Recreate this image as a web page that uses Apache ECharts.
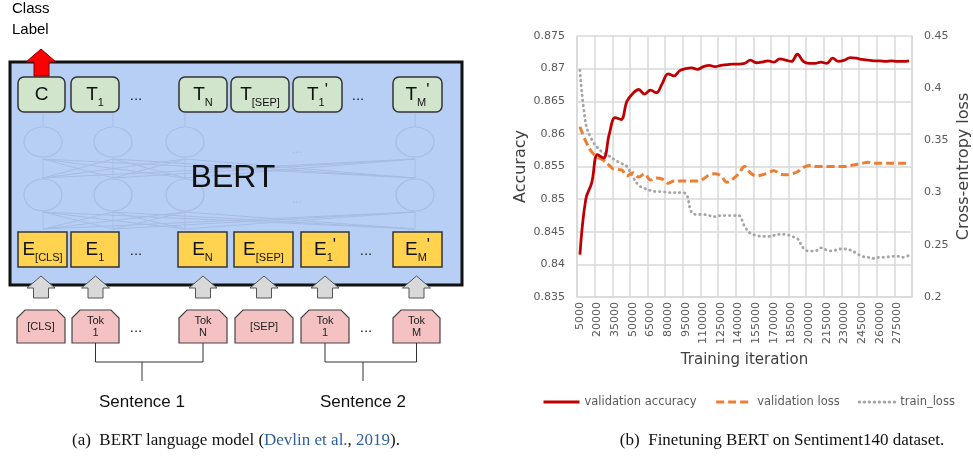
<!DOCTYPE html>
<html>
<head>
<meta charset="utf-8">
<script src="https://cdn.jsdelivr.net/npm/echarts@6/dist/echarts.min.js"></script>
<style>
  html, body { margin: 0; padding: 0; background: #fff; }
  #chart { width: 973px; height: 462px; }
</style>
</head>
<body>
<div id="chart"></div>
<script>
// training iterations (x categories)
var iterations = ['5000', '10000', '15000', '20000', '25000', '30000', '35000', '40000', '45000', '50000',
  '55000', '60000', '65000', '70000', '75000', '80000', '85000', '90000', '95000', '100000',
  '105000', '110000', '115000', '120000', '125000', '130000', '135000', '140000', '145000', '150000',
  '155000', '160000', '165000', '170000', '175000', '180000', '185000', '190000', '195000', '200000',
  '205000', '210000', '215000', '220000', '225000', '230000', '235000', '240000', '245000', '250000',
  '255000', '260000', '265000', '270000', '275000', '280000', '285000'];

var valAccuracy = [0.8415, 0.8500, 0.8525, 0.8568, 0.8563, 0.8600, 0.8625, 0.8622, 0.8650, 0.8662,
  0.8668, 0.8661, 0.8667, 0.8663, 0.8677, 0.8692, 0.8689, 0.8697, 0.8700, 0.8701,
  0.8699, 0.8703, 0.8705, 0.8703, 0.8705, 0.8706, 0.8707, 0.8707, 0.8708, 0.8713,
  0.8709, 0.8710, 0.8712, 0.8710, 0.8715, 0.8713, 0.8711, 0.8722, 0.8711, 0.8708,
  0.8708, 0.8710, 0.8708, 0.8716, 0.8711, 0.8713, 0.8717, 0.8716, 0.8714, 0.8713,
  0.8712, 0.8712, 0.8711, 0.8712, 0.8711, 0.8711, 0.8712];

var valLoss = [0.363, 0.349, 0.339, 0.334, 0.331, 0.326, 0.322, 0.322, 0.316, 0.319,
  0.315, 0.318, 0.312, 0.314, 0.313, 0.309, 0.311, 0.311, 0.311, 0.311,
  0.311, 0.313, 0.317, 0.318, 0.316, 0.310, 0.313, 0.318, 0.325, 0.319,
  0.316, 0.317, 0.319, 0.321, 0.318, 0.317, 0.318, 0.320, 0.324, 0.326,
  0.325, 0.325, 0.325, 0.325, 0.325, 0.325, 0.326, 0.327, 0.328, 0.329,
  0.328, 0.328, 0.328, 0.328, 0.328, 0.328, 0.328];

var trainLoss = [0.417, 0.366, 0.351, 0.343, 0.338, 0.335, 0.331, 0.328, 0.325, 0.315,
  0.307, 0.304, 0.302, 0.301, 0.301, 0.300, 0.300, 0.300, 0.299, 0.281,
  0.279, 0.279, 0.278, 0.277, 0.278, 0.278, 0.278, 0.278, 0.268, 0.261,
  0.259, 0.258, 0.258, 0.259, 0.260, 0.260, 0.258, 0.256, 0.247, 0.244,
  0.244, 0.247, 0.245, 0.244, 0.246, 0.246, 0.245, 0.242, 0.239, 0.238,
  0.237, 0.238, 0.238, 0.239, 0.239, 0.238, 0.240];

// diagram labels
var outputLabels = ['C', 'T_1', 'T_N', 'T_[SEP]', "T_1'", "T_M'"];
var embedLabels = ['E_[CLS]', 'E_1', 'E_N', 'E_[SEP]', "E_1'", "E_M'"];
var tokenLabels = ['[CLS]', 'Tok\n1', 'Tok\nN', '[SEP]', 'Tok\n1', 'Tok\nM'];
var sentenceLabels = ['Sentence 1', 'Sentence 2'];

var SANS = 'Liberation Sans, Arial, sans-serif';
var CHART_FONT = 'DejaVu Sans, sans-serif';
var SERIF = 'Liberation Serif, Times New Roman, serif';

var graphics = [];

function rect(x0, y0, x1, y1, fill, stroke, lw, r) {
  graphics.push({
    type: 'rect',
    shape: { x: x0, y: y0, width: x1 - x0, height: y1 - y0, r: r || 0 },
    style: { fill: fill, stroke: stroke, lineWidth: lw }
  });
}
function poly(points, fill, stroke, lw) {
  graphics.push({ type: 'polygon', shape: { points: points }, style: { fill: fill, stroke: stroke, lineWidth: lw } });
}
function line(x1, y1, x2, y2, stroke, lw) {
  graphics.push({ type: 'line', shape: { x1: x1, y1: y1, x2: x2, y2: y2 }, style: { stroke: stroke, lineWidth: lw } });
}
function text(x, y, str, style) {
  var s = Object.assign({ text: str, align: 'center', verticalAlign: 'middle', fill: '#000' }, style);
  graphics.push({ type: 'text', x: x, y: y, style: s });
}
function richLabel(s) {
  var parts = s.split('_');
  if (parts.length === 1) return '{m|' + s + '}';
  var sub = parts[1], prime = false;
  if (sub.slice(-1) === "'") { prime = true; sub = sub.slice(0, -1); }
  return '{m|' + parts[0] + '}{s|' + sub + '}' + (prime ? "{p|'}" : '');
}
var labelRich = {
  m: { fontSize: 19, fontFamily: SANS, lineHeight: 26, fill: '#111' },
  s: { fontSize: 11, fontFamily: SANS, lineHeight: 13, verticalAlign: 'bottom', fill: '#111' },
  p: { fontSize: 17, fontFamily: SANS, lineHeight: 16, verticalAlign: 'top', fill: '#111' }
};

// ---- BERT box
rect(10, 62, 462, 285, '#b8cff5', '#111', 3);

// faint transformer layer
var layerX = [43, 113, 185, 415];
var faint = '#a6bce4';
layerX.forEach(function (a) {
  layerX.forEach(function (b) {
    line(a, 229, b, 212, faint, 1);
    line(a, 178, b, 159, faint, 1);
  });
  line(a, 127, a, 113, faint, 1);
  graphics.push({ type: 'ellipse', shape: { cx: a, cy: 142, rx: 19, ry: 15 }, style: { fill: 'none', stroke: faint, lineWidth: 1.2 } });
  graphics.push({ type: 'ellipse', shape: { cx: a, cy: 195, rx: 19, ry: 16 }, style: { fill: 'none', stroke: faint, lineWidth: 1.2 } });
});
text(297, 150, '...', { fontSize: 12, fontFamily: SANS, fill: '#a6bce4' });
text(297, 200, '...', { fontSize: 12, fontFamily: SANS, fill: '#a6bce4' });
text(233, 178, 'BERT', { fontSize: 32, fontFamily: SANS, fill: '#111' });

// output row
var outX = [[18, 65], [71, 119], [179, 227], [231, 289], [293, 342], [393, 442]];
outputLabels.forEach(function (lb, i) {
  var b = outX[i];
  rect(b[0], 77, b[1], 112, '#d0e5cb', '#333', 1.5, 6);
  text((b[0] + b[1]) / 2, 95, richLabel(lb), { rich: labelRich });
});
text(136, 96, '...', { fontSize: 15, fontFamily: SANS, fill: '#222' });
text(358, 96, '...', { fontSize: 15, fontFamily: SANS, fill: '#222' });

// embedding row
var embX = [[18, 67], [71, 119], [178, 227], [234, 293], [301, 349], [393, 442]];
embedLabels.forEach(function (lb, i) {
  var b = embX[i];
  rect(b[0], 232, b[1], 267, '#ffd34f', '#333', 1.5);
  text((b[0] + b[1]) / 2, 250, richLabel(lb), { rich: labelRich });
});
text(136, 251, '...', { fontSize: 15, fontFamily: SANS, fill: '#222' });
text(366, 251, '...', { fontSize: 15, fontFamily: SANS, fill: '#222' });

// class label arrow
poly([[41, 49], [56, 62], [49, 62], [49, 76], [34, 76], [34, 62], [26, 62]], '#ff0000', '#7a0000', 1);
text(12, 9, 'Class', { align: 'left', fontSize: 15, fontFamily: SANS });
text(12, 30, 'Label', { align: 'left', fontSize: 15, fontFamily: SANS });

// token boxes + gray arrows
var tokX = [[17, 65], [72, 119], [179, 227], [235, 293], [301, 349], [393, 440]];
tokenLabels.forEach(function (lb, i) {
  var b = tokX[i], cx = (b[0] + b[1]) / 2;
  poly([[cx, 276], [cx + 14, 288], [cx + 7.5, 288], [cx + 7.5, 298], [cx - 7.5, 298], [cx - 7.5, 288], [cx - 14, 288]], '#d9d9d9', '#555', 1);
  poly([[b[0], 318], [b[0] + 8, 310], [b[1] - 8, 310], [b[1], 318], [b[1], 343], [b[0], 343]], '#f4c2c2', '#444', 1.2);
  text(cx, 327, lb, { fontSize: 11, fontFamily: SANS, lineHeight: 12, fill: '#222' });
});
text(136, 328, '...', { fontSize: 15, fontFamily: SANS, fill: '#222' });
text(366, 328, '...', { fontSize: 15, fontFamily: SANS, fill: '#222' });

// sentence brackets
[[1, 2], [4, 5]].forEach(function (pair, k) {
  var xa = (tokX[pair[0]][0] + tokX[pair[0]][1]) / 2;
  var xb = (tokX[pair[1]][0] + tokX[pair[1]][1]) / 2;
  var mid = k === 0 ? 142 : 363;
  line(xa, 343, xa, 362, '#333', 1);
  line(xb, 343, xb, 362, '#333', 1);
  line(xa, 362, xb, 362, '#333', 1);
  line(mid, 362, mid, 381, '#333', 1);
  text(mid, 402, sentenceLabels[k], { fontSize: 17, fontFamily: SANS, fill: '#111' });
});

// captions
text(236, 441, '{k|(a)  BERT language model (}{b|Devlin et al.}{k|, }{b|2019}{k|).}', {
  rich: {
    k: { fontSize: 17, fontFamily: SERIF, fill: '#111' },
    b: { fontSize: 17, fontFamily: SERIF, fill: '#2f5f9e' }
  }
});
text(782, 441, '(b)  Finetuning BERT on Sentiment140 dataset.', { fontSize: 17, fontFamily: SERIF, fill: '#111' });

var gridColor = '#d9d9d9';
var labelColor = '#595959';

var chart = echarts.init(document.getElementById('chart'));
chart.setOption({
  animation: false,
  textStyle: { fontFamily: CHART_FONT },
  grid: { left: 577, right: 60, top: 36, bottom: 165 },
  legend: {
    left: 537, top: 391, itemWidth: 36, itemHeight: 12, itemGap: 18,
    itemStyle: { opacity: 0 },
    lineStyle: { width: 3 },
    textStyle: { fontSize: 11.5, color: labelColor, fontFamily: CHART_FONT },
    data: ['validation accuracy', 'validation loss', 'train_loss']
  },
  xAxis: {
    type: 'category', data: iterations, boundaryGap: true,
    name: 'Training iteration', nameLocation: 'middle', nameGap: 56,
    nameTextStyle: { fontSize: 15, color: '#404040' },
    axisLine: { lineStyle: { color: gridColor, width: 1.5 } },
    axisTick: { interval: 2, length: 5, lineStyle: { color: gridColor, width: 1.5 } },
    axisLabel: { interval: 2, rotate: 90, fontSize: 11, color: labelColor, margin: 5 },
    splitLine: { show: true, interval: 2, lineStyle: { color: gridColor, width: 1.5 } }
  },
  yAxis: [{
    type: 'value', min: 0.835, max: 0.875, interval: 0.005,
    name: 'Accuracy', nameLocation: 'middle', nameGap: 48, nameRotate: 90,
    nameTextStyle: { fontSize: 16, color: '#404040' },
    axisLine: { show: true, lineStyle: { color: gridColor, width: 1.5 } },
    axisTick: { show: false },
    axisLabel: { fontSize: 11, color: labelColor, margin: 12, formatter: function (v) { return String(+v.toFixed(3)); } },
    splitLine: { lineStyle: { color: gridColor, width: 1.5 } }
  }, {
    type: 'value', min: 0.2, max: 0.45, interval: 0.05, position: 'right',
    name: 'Cross-entropy loss', nameLocation: 'middle', nameGap: 44, nameRotate: 90,
    nameTextStyle: { fontSize: 16, color: '#404040' },
    axisLine: { show: true, lineStyle: { color: gridColor, width: 1.5 } },
    axisTick: { show: false },
    axisLabel: { fontSize: 11, color: labelColor, margin: 12, formatter: function (v) { return String(+v.toFixed(2)); } },
    splitLine: { show: false }
  }],
  series: [{
    name: 'validation accuracy', type: 'line', data: valAccuracy, yAxisIndex: 0,
    smooth: 0.4, symbol: 'none', z: 4,
    lineStyle: { color: '#c00000', width: 2.8 }, itemStyle: { color: '#c00000' }
  }, {
    name: 'validation loss', type: 'line', data: valLoss, yAxisIndex: 1,
    smooth: 0.4, symbol: 'none', z: 3,
    lineStyle: { color: '#ed7d31', width: 3, type: [8, 4] }, itemStyle: { color: '#ed7d31' }
  }, {
    name: 'train_loss', type: 'line', data: trainLoss, yAxisIndex: 1,
    smooth: 0.4, symbol: 'none', z: 2,
    lineStyle: { color: '#a5a5a5', width: 2.8, type: [0.5, 4.5], cap: 'round' }, itemStyle: { color: '#a5a5a5' }
  }],
  graphic: graphics
});
</script>
</body>
</html>
